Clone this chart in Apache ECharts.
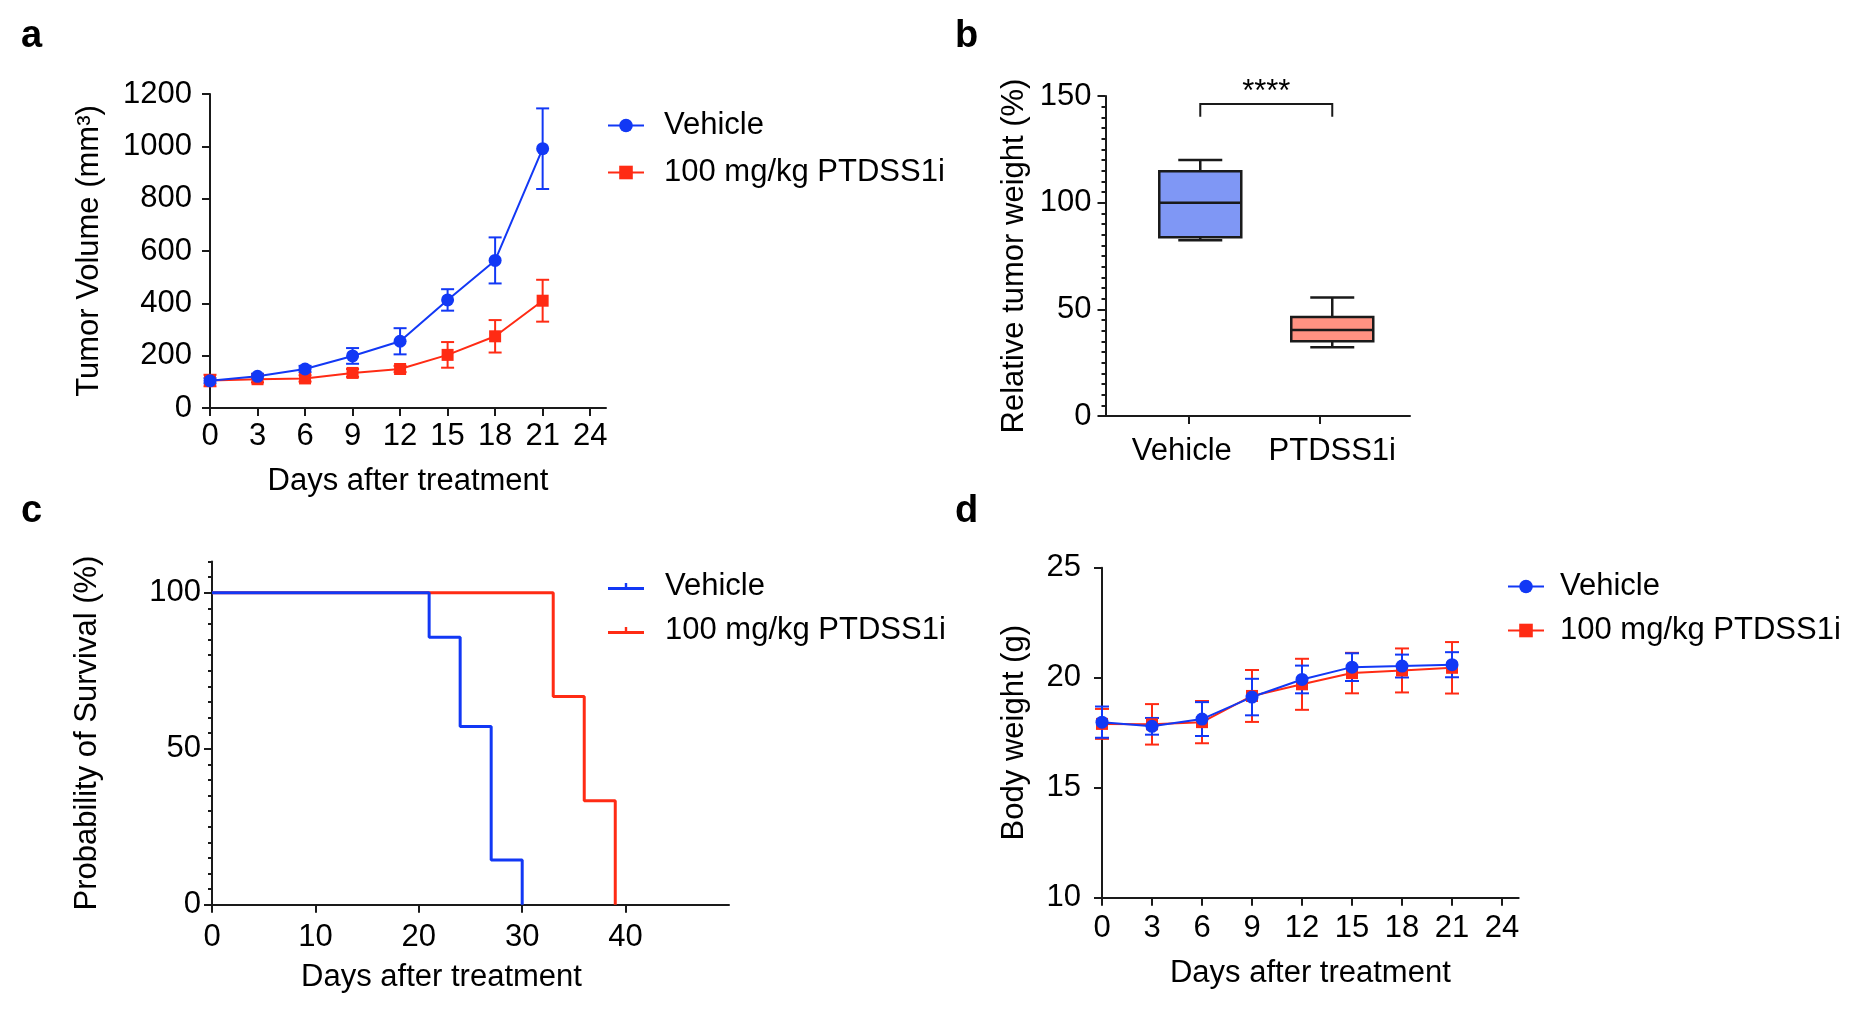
<!DOCTYPE html>
<html>
<head>
<meta charset="utf-8">
<title>PTDSS1i in vivo</title>
<script src="https://cdn.jsdelivr.net/npm/echarts@6/dist/echarts.min.js"></script>
<style>
  html, body { margin: 0; padding: 0; background: #fff; }
  #main { width: 1856px; height: 1014px; }
</style>
</head>
<body>
<div id="main"></div>
<script>
// ---- data ----
var seriesNames = ['Vehicle', '100 mg/kg PTDSS1i'];

// a - tumor volume (mean +/- sem)
var daysA = [0, 3, 6, 9, 12, 15, 18, 21];
var volVehicle = [104, 121, 149, 199, 255, 413, 564, 991];
var volVehicleErr = [10, 10, 12, 30, 50, 41, 88, 154];
var volPtdss = [105, 110, 113, 134, 149, 203, 274, 410];
var volPtdssErr = [22, 12, 12, 15, 12, 49, 62, 80];

// b - relative tumor weight, box stats
var boxGroups = ['Vehicle', 'PTDSS1i'];
var boxMin = [82.4, 32.2];
var boxQ1 = [83.8, 35.0];
var boxMedian = [100.0, 40.3];
var boxQ3 = [114.7, 46.4];
var boxMax = [120.0, 55.6];
var sigLabel = '****';

// c - survival (Kaplan-Meier steps)
var survDaysVehicle = [0, 21, 24, 27, 30];
var survVehicle = [100, 85.7, 57.1, 14.3, 0];
var survDaysPtdss = [0, 33, 36, 39];
var survPtdss = [100, 66.7, 33.3, 0];

// d - body weight (mean +/- sem)
var daysD = [0, 3, 6, 9, 12, 15, 18, 21];
var bwVehicle = [17.98, 17.79, 18.12, 19.12, 19.92, 20.48, 20.53, 20.59];
var bwVehicleErr = [0.71, 0.38, 0.77, 0.83, 0.63, 0.63, 0.52, 0.57];
var bwPtdss = [17.90, 17.88, 17.98, 19.17, 19.70, 20.21, 20.33, 20.45];
var bwPtdssErr = [0.68, 0.92, 0.96, 1.18, 1.16, 0.92, 1.00, 1.17];

// tick labels
var dayTicks = [0, 3, 6, 9, 12, 15, 18, 21, 24];
var survDayTicks = [0, 10, 20, 30, 40];
var survPctTicks = [0, 50, 100];

// ---- styles ----
var FONT = "'Liberation Sans', Arial, Helvetica, sans-serif";
var BLUE = '#1238f5';
var RED = '#ff2b14';
var INK = '#1a1a1a';
var BOX_FILL = ['#7f97f5', '#ff9282'];
var CENSOR_ICON = 'path://M0,4H36V7H0Z M16.8,0H19.2V4H16.8Z';

function zip(xs, ys) {
  return xs.map(function (x, i) { return [x, ys[i]]; });
}
function errData(xs, mean, err) {
  return xs.map(function (x, i) { return [x, mean[i] - err[i], mean[i] + err[i]]; });
}
function plain(v) { return String(v); }

function txt(size) {
  return { color: '#000', fontSize: size || 31, fontFamily: FONT };
}
function axisLine() {
  return { show: true, onZero: false, lineStyle: { color: INK, width: 2 } };
}
function axisTick(len, custom) {
  var t = { show: true, length: len, lineStyle: { color: INK, width: 2 } };
  if (custom) t.customValues = custom;
  return t;
}
function axisLabel(margin, custom, fmt) {
  var l = txt();
  l.margin = margin;
  if (custom) l.customValues = custom;
  l.formatter = fmt || plain;
  return l;
}

// error bar: vertical line + two caps
function errorBar(capPx) {
  return function (params, api) {
    var lo = api.coord([api.value(0), api.value(1)]);
    var hi = api.coord([api.value(0), api.value(2)]);
    var st = { stroke: api.visual('color'), lineWidth: 2 };
    var h = capPx / 2;
    return {
      type: 'group',
      children: [
        { type: 'line', shape: { x1: lo[0], y1: lo[1], x2: hi[0], y2: hi[1] }, style: st },
        { type: 'line', shape: { x1: hi[0] - h, y1: hi[1], x2: hi[0] + h, y2: hi[1] }, style: st },
        { type: 'line', shape: { x1: lo[0] - h, y1: lo[1], x2: lo[0] + h, y2: lo[1] }, style: st }
      ]
    };
  };
}

// box + whiskers for panel b
var BOX_PX = 82, CAP_PX = 44;
function renderBox(params, api) {
  var x = api.value(0);
  var pMin = api.coord([x, api.value(1)]);
  var pQ1 = api.coord([x, api.value(2)]);
  var pMed = api.coord([x, api.value(3)]);
  var pQ3 = api.coord([x, api.value(4)]);
  var pMax = api.coord([x, api.value(5)]);
  var cx = pMed[0], b = BOX_PX / 2, c = CAP_PX / 2;
  var ls = { stroke: INK, lineWidth: 2.5 };
  return {
    type: 'group',
    children: [
      { type: 'line', shape: { x1: cx, y1: pMax[1], x2: cx, y2: pQ3[1] }, style: ls },
      { type: 'line', shape: { x1: cx - c, y1: pMax[1], x2: cx + c, y2: pMax[1] }, style: ls },
      { type: 'line', shape: { x1: cx, y1: pMin[1], x2: cx, y2: pQ1[1] }, style: ls },
      { type: 'line', shape: { x1: cx - c, y1: pMin[1], x2: cx + c, y2: pMin[1] }, style: ls },
      { type: 'rect', shape: { x: cx - b, y: pQ3[1], width: BOX_PX, height: pQ1[1] - pQ3[1] },
        style: { fill: BOX_FILL[params.dataIndex], stroke: INK, lineWidth: 2.5 } },
      { type: 'line', shape: { x1: cx - b, y1: pMed[1], x2: cx + b, y2: pMed[1] }, style: ls }
    ]
  };
}

// significance bracket between the two boxes
function renderBracket(params, api) {
  var l = api.coord([api.value(0), api.value(2)]);
  var r = api.coord([api.value(1), api.value(2)]);
  var lf = api.coord([api.value(0), api.value(3)]);
  var rf = api.coord([api.value(1), api.value(3)]);
  return {
    type: 'group',
    children: [
      { type: 'polyline', shape: { points: [lf, l, r, rf] },
        style: { stroke: INK, lineWidth: 2, fill: null } },
      { type: 'text', style: { text: sigLabel, x: (l[0] + r[0]) / 2, y: l[1] + 4,
        align: 'center', verticalAlign: 'bottom', fill: '#000', fontSize: 31, fontFamily: FONT } }
    ]
  };
}

function panelTitle(t, left, top) {
  return { text: t, left: left, top: top, padding: 0,
    textStyle: { color: '#000', fontSize: 38, fontWeight: 'bold', fontFamily: FONT } };
}

function legendBox(left, top, gap, pad, icon, h) {
  return {
    orient: 'vertical', left: left, top: top, padding: 0,
    itemWidth: 36, itemHeight: h, itemGap: gap, selectedMode: false,
    data: seriesNames.map(function (n) { return icon ? { name: n, icon: icon } : { name: n }; }),
    textStyle: { color: '#000', fontSize: 31, fontFamily: FONT, padding: [0, 0, 0, pad] }
  };
}

var myChart = echarts.init(document.getElementById('main'));

var option = {
  backgroundColor: '#fff',
  animation: false,
  title: [
    panelTitle('a', 21, 18),
    panelTitle('b', 955, 18),
    panelTitle('c', 21, 493),
    panelTitle('d', 955, 493)
  ],
  legend: [
    legendBox(607, 110, 16, 15, null, 17),
    legendBox(608, 571, 13, 16, CENSOR_ICON, 7),
    legendBox(1507, 571, 13, 11, null, 17)
  ],
  grid: [
    { left: 210, top: 94, width: 396, height: 314, outerBoundsMode: 'none' },
    { left: 1105.5, top: 96, width: 304.5, height: 320, outerBoundsMode: 'none' },
    { left: 212, top: 561.5, width: 517, height: 343.2, outerBoundsMode: 'none' },
    { left: 1102, top: 567.7, width: 416.7, height: 330, outerBoundsMode: 'none' }
  ],
  xAxis: [
    { type: 'value', gridIndex: 0, min: 0, max: 25, splitLine: { show: false },
      axisLine: axisLine(), axisTick: axisTick(8, dayTicks), axisLabel: axisLabel(13, dayTicks),
      name: 'Days after treatment', nameLocation: 'middle', nameGap: 58, nameTextStyle: txt() },
    // ticks/labels sit slightly left of the box centres, as in the figure
    { type: 'value', gridIndex: 1, min: 0.282, max: 2.589, splitLine: { show: false },
      axisLine: axisLine(), axisTick: axisTick(8, [0.909, 1.909]),
      axisLabel: axisLabel(20, [0.86, 2], function (v) { return v < 1.5 ? boxGroups[0] : boxGroups[1]; }) },
    { type: 'value', gridIndex: 2, min: 0, max: 50, splitLine: { show: false },
      axisLine: axisLine(), axisTick: axisTick(8, survDayTicks), axisLabel: axisLabel(17, survDayTicks),
      name: 'Days after treatment', nameLocation: 'middle', nameGap: 57,
      nameTextStyle: { color: '#000', fontSize: 31, fontFamily: FONT, padding: [0, 58, 0, 0] } },
    { type: 'value', gridIndex: 3, min: 0, max: 25, splitLine: { show: false },
      axisLine: axisLine(), axisTick: axisTick(8, dayTicks), axisLabel: axisLabel(15, dayTicks),
      name: 'Days after treatment', nameLocation: 'middle', nameGap: 60, nameTextStyle: txt() }
  ],
  yAxis: [
    { type: 'value', gridIndex: 0, position: 'left', min: 0, max: 1200, interval: 200,
      splitLine: { show: false }, axisLine: axisLine(), axisTick: axisTick(8), axisLabel: axisLabel(18),
      name: 'Tumor Volume (mm³)', nameLocation: 'middle', nameGap: 105, nameTextStyle: txt() },
    { type: 'value', gridIndex: 1, position: 'left', min: 0, max: 150, interval: 50,
      splitLine: { show: false }, axisLine: axisLine(), axisTick: axisTick(8), axisLabel: axisLabel(14),
      minorTick: { show: true, splitNumber: 10, length: 4, lineStyle: { color: INK, width: 2 } },
      name: 'Relative tumor weight (%)', nameLocation: 'middle', nameGap: 76, nameTextStyle: txt() },
    { type: 'value', gridIndex: 2, position: 'left', min: 0, max: 110,
      splitLine: { show: false }, axisLine: axisLine(), axisTick: axisTick(8, survPctTicks),
      axisLabel: axisLabel(11, survPctTicks),
      name: 'Probability of Survival (%)', nameLocation: 'middle', nameGap: 109, nameTextStyle: txt() },
    // minor 5% ticks of panel c
    { type: 'value', gridIndex: 2, position: 'left', min: 0, max: 110, interval: 5,
      splitLine: { show: false }, axisLine: { show: false }, axisTick: axisTick(4),
      axisLabel: { show: false } },
    { type: 'value', gridIndex: 3, position: 'left', min: 10, max: 25, interval: 5,
      splitLine: { show: false }, axisLine: axisLine(), axisTick: axisTick(8), axisLabel: axisLabel(21),
      name: 'Body weight (g)', nameLocation: 'middle', nameGap: 72, nameTextStyle: txt() }
  ],
  series: [
    // a
    { name: 'PTDSS1i sem a', type: 'custom', xAxisIndex: 0, yAxisIndex: 0, itemStyle: { color: RED },
      renderItem: errorBar(13), encode: { x: 0, y: [1, 2] }, data: errData(daysA, volPtdss, volPtdssErr) },
    { name: seriesNames[1], type: 'line', xAxisIndex: 0, yAxisIndex: 0, data: zip(daysA, volPtdss),
      symbol: 'rect', symbolSize: 12, itemStyle: { color: RED }, lineStyle: { color: RED, width: 2 } },
    { name: 'Vehicle sem a', type: 'custom', xAxisIndex: 0, yAxisIndex: 0, itemStyle: { color: BLUE },
      renderItem: errorBar(13), encode: { x: 0, y: [1, 2] }, data: errData(daysA, volVehicle, volVehicleErr) },
    { name: seriesNames[0], type: 'line', xAxisIndex: 0, yAxisIndex: 0, data: zip(daysA, volVehicle),
      symbol: 'circle', symbolSize: 13, itemStyle: { color: BLUE }, lineStyle: { color: BLUE, width: 2 } },

    // b
    { name: 'box b', type: 'custom', xAxisIndex: 1, yAxisIndex: 1, renderItem: renderBox,
      encode: { x: 0, y: [1, 2, 3, 4, 5] },
      data: boxGroups.map(function (g, i) {
        return [i + 1, boxMin[i], boxQ1[i], boxMedian[i], boxQ3[i], boxMax[i]];
      }) },
    { name: 'sig b', type: 'custom', xAxisIndex: 1, yAxisIndex: 1, renderItem: renderBracket,
      encode: { x: [0, 1], y: [2, 3] }, data: [[1, 2, 146.2, 140.3]] },

    // c
    { name: seriesNames[1] + ' ', type: 'line', xAxisIndex: 2, yAxisIndex: 2, step: 'end',
      data: zip(survDaysPtdss, survPtdss), symbol: 'none', lineStyle: { color: RED, width: 3 },
      itemStyle: { color: RED } },
    { name: seriesNames[0] + ' ', type: 'line', xAxisIndex: 2, yAxisIndex: 2, step: 'end',
      data: zip(survDaysVehicle, survVehicle), symbol: 'none', lineStyle: { color: BLUE, width: 3 },
      itemStyle: { color: BLUE } },

    // d
    { name: 'PTDSS1i sem d', type: 'custom', xAxisIndex: 3, yAxisIndex: 4, itemStyle: { color: RED },
      renderItem: errorBar(14), encode: { x: 0, y: [1, 2] }, data: errData(daysD, bwPtdss, bwPtdssErr) },
    { name: seriesNames[1], type: 'line', xAxisIndex: 3, yAxisIndex: 4, data: zip(daysD, bwPtdss),
      symbol: 'rect', symbolSize: 12, itemStyle: { color: RED }, lineStyle: { color: RED, width: 2 } },
    { name: 'Vehicle sem d', type: 'custom', xAxisIndex: 3, yAxisIndex: 4, itemStyle: { color: BLUE },
      renderItem: errorBar(14), encode: { x: 0, y: [1, 2] }, data: errData(daysD, bwVehicle, bwVehicleErr) },
    { name: seriesNames[0], type: 'line', xAxisIndex: 3, yAxisIndex: 4, data: zip(daysD, bwVehicle),
      symbol: 'circle', symbolSize: 13, itemStyle: { color: BLUE }, lineStyle: { color: BLUE, width: 2 } }
  ]
};

myChart.setOption(option);
</script>
</body>
</html>
